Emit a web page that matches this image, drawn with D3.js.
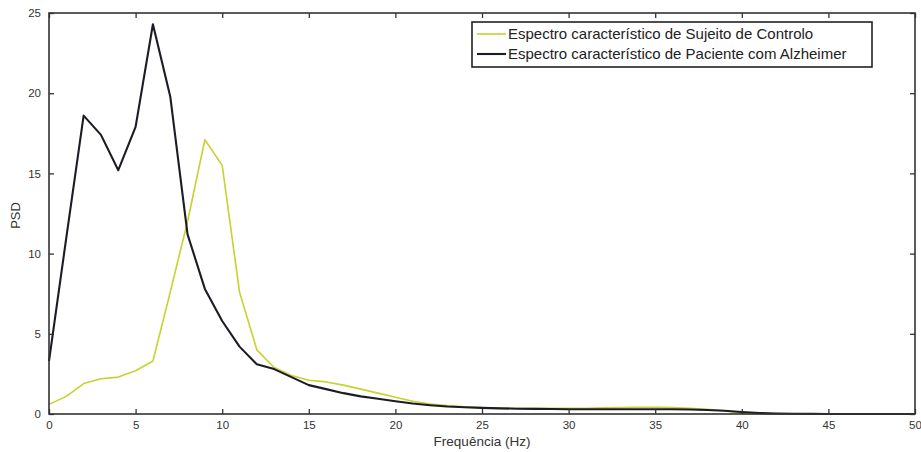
<!DOCTYPE html>
<html>
<head>
<meta charset="utf-8">
<script src="https://cdn.jsdelivr.net/npm/d3@7"></script>
<style>
  html, body { margin: 0; padding: 0; background: #fff; }
  svg { display: block; }
  text { font-family: "Liberation Sans", Arial, sans-serif; }
</style>
</head>
<body>
<svg id="chart" width="921" height="452"></svg>
<script>
// Frequency bins (Hz)
const freqs = d3.range(0, 51, 1);

// PSD — Sujeito de Controlo
const controlPSD = [0.6, 1.1, 1.9, 2.2, 2.3, 2.7, 3.3, 7.6, 12.0, 17.1,
  15.5, 7.6, 4.0, 2.9, 2.4, 2.1, 2.0, 1.8, 1.55, 1.3,
  1.05, 0.8, 0.62, 0.52, 0.45, 0.4, 0.38, 0.36, 0.35, 0.35,
  0.35, 0.36, 0.38, 0.4, 0.42, 0.42, 0.4, 0.35, 0.3, 0.2,
  0.05, 0.02, 0.01, 0, 0, 0, 0, 0, 0, 0, 0];

// PSD — Paciente com Alzheimer
const alzheimerPSD = [3.3, 11.0, 18.6, 17.4, 15.2, 17.9, 24.3, 19.8, 11.2, 7.8,
  5.8, 4.2, 3.1, 2.8, 2.3, 1.8, 1.55, 1.3, 1.1, 0.95,
  0.8, 0.65, 0.55, 0.47, 0.42, 0.38, 0.35, 0.33, 0.32, 0.31,
  0.3, 0.3, 0.3, 0.3, 0.3, 0.3, 0.3, 0.28, 0.25, 0.2,
  0.12, 0.06, 0.03, 0.02, 0.01, 0, 0, 0, 0, 0, 0];

const xTicks = [0, 5, 10, 15, 20, 25, 30, 35, 40, 45, 50];
const yTicks = [0, 5, 10, 15, 20, 25];
const seriesNames = ["Espectro característico de Sujeito de Controlo",
                     "Espectro característico de Paciente com Alzheimer"];
const seriesColors = ["#c9d12e", "#1c1c26"];
const xLabel = "Frequência (Hz)";
const yLabel = "PSD";

const svg = d3.select("#chart");
const mLeft = 49, mRight = 915, mTop = 13, mBottom = 414;

const x = d3.scaleLinear().domain([0, 50]).range([mLeft, mRight]);
const y = d3.scaleLinear().domain([0, 25]).range([mBottom, mTop]);

const axisColor = "#333";
const tickLen = 5;

// lines
const line = d3.line().x((d, i) => x(freqs[i])).y(d => y(d));
const series = [controlPSD, alzheimerPSD];
const widths = [1.6, 2.1];
series.forEach((s, i) => {
  svg.append("path")
    .datum(s)
    .attr("d", line)
    .attr("fill", "none")
    .attr("stroke", seriesColors[i])
    .attr("stroke-width", widths[i])
    .attr("stroke-linejoin", "round");
});

// axes: bottom, left with inward ticks
const xAxis = d3.axisBottom(x).tickValues(xTicks).tickSizeInner(-tickLen).tickSizeOuter(0).tickPadding(7);
const gx = svg.append("g").attr("transform", `translate(0,${mBottom})`).call(xAxis);
const yAxis = d3.axisLeft(y).tickValues(yTicks).tickSizeInner(-tickLen).tickSizeOuter(0).tickPadding(8);
const gy = svg.append("g").attr("transform", `translate(${mLeft},0)`).call(yAxis);
// top & right: ticks only
const gxt = svg.append("g").attr("transform", `translate(0,${mTop})`)
  .call(d3.axisTop(x).tickValues(xTicks).tickSizeInner(-tickLen).tickSizeOuter(0).tickFormat(""));
const gyr = svg.append("g").attr("transform", `translate(${mRight},0)`)
  .call(d3.axisRight(y).tickValues(yTicks).tickSizeInner(-tickLen).tickSizeOuter(0).tickFormat(""));

[gx, gy, gxt, gyr].forEach(g => {
  g.select(".domain").remove();
  g.selectAll("line").attr("stroke", axisColor).attr("stroke-width", 1.3);
  g.selectAll("text").attr("fill", "#333").style("font-size", "11.5px")
    .style("font-family", "'Liberation Sans', Arial, sans-serif");
});

// box
svg.append("rect")
  .attr("x", mLeft).attr("y", mTop)
  .attr("width", mRight - mLeft).attr("height", mBottom - mTop)
  .attr("fill", "none").attr("stroke", axisColor).attr("stroke-width", 1.6);

// axis labels
svg.append("text")
  .attr("x", (mLeft + mRight) / 2).attr("y", 446)
  .attr("text-anchor", "middle")
  .attr("fill", "#333")
  .style("font-size", "13.5px")
  .text(xLabel);

svg.append("text")
  .attr("transform", `translate(20,${(mTop + mBottom) / 2 + 2}) rotate(-90)`)
  .attr("text-anchor", "middle")
  .attr("fill", "#333")
  .style("font-size", "13px")
  .text(yLabel);

// legend
const lgX = 472, lgY = 22, lgW = 400, lgH = 45;
svg.append("rect")
  .attr("x", lgX).attr("y", lgY).attr("width", lgW).attr("height", lgH)
  .attr("fill", "#fff").attr("stroke", "#222").attr("stroke-width", 1.6);
const textLens = [315, 349];
seriesNames.forEach((name, i) => {
  const yy = lgY + 12 + i * 20;
  svg.append("line")
    .attr("x1", lgX + 5).attr("x2", lgX + 34)
    .attr("y1", yy).attr("y2", yy)
    .attr("stroke", seriesColors[i]).attr("stroke-width", widths[i]);
  svg.append("text")
    .attr("x", lgX + 36).attr("y", yy)
    .attr("dy", "0.35em")
    .attr("fill", "#222")
    .style("font-size", "15px")
    .text(name);
});
</script>
</body>
</html>
